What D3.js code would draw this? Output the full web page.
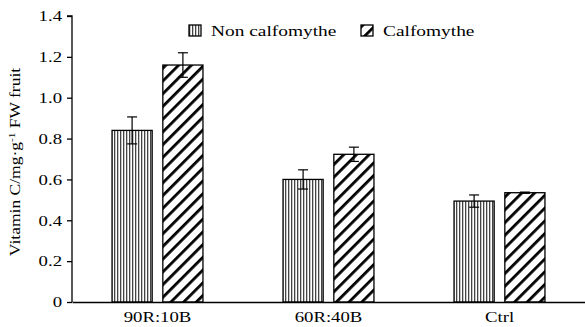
<!DOCTYPE html>
<html>
<head>
<meta charset="utf-8">
<script src="https://cdn.jsdelivr.net/npm/d3@7"></script>
<style>
  body { margin: 0; background: #fff; }
</style>
</head>
<body>
<div id="chart"></div>
<script>
// data
var categories = ["90R:10B", "60R:40B", "Ctrl"];
var seriesNames = ["Non calfomythe", "Calfomythe"];
var nonCalValues = [0.84, 0.60, 0.494];
var nonCalErrors = [0.066, 0.047, 0.030];
var calValues = [1.16, 0.723, 0.535];
var calErrors = [0.060, 0.035, 0.003];
var yTicks = [0, 0.2, 0.4, 0.6, 0.8, 1.0, 1.2, 1.4];

var width = 585, height = 327;
var plotLeft = 72, plotRight = 585, plotTop = 16, plotBottom = 302;
var serif = "'Liberation Serif', 'Times New Roman', 'DejaVu Serif', serif";
var stretch = 1.25; // reference font is quite wide

var svg = d3.select("#chart").append("svg")
  .attr("width", width)
  .attr("height", height);

// patterns
var defs = svg.append("defs");
var vert = defs.append("pattern")
  .attr("id", "vstripe")
  .attr("patternUnits", "userSpaceOnUse")
  .attr("width", 3)
  .attr("height", 3);
vert.append("rect").attr("width", 3).attr("height", 3).attr("fill", "#fff");
vert.append("rect").attr("x", 0).attr("width", 1.3).attr("height", 3).attr("fill", "#444");

var diag = defs.append("pattern")
  .attr("id", "diag")
  .attr("patternUnits", "userSpaceOnUse")
  .attr("width", 9)
  .attr("height", 9)
  .attr("patternTransform", "rotate(45)");
diag.append("rect").attr("width", 9).attr("height", 9).attr("fill", "#fff");
diag.append("rect").attr("x", 0).attr("width", 2.8).attr("height", 9).attr("fill", "#000");

var x = d3.scaleBand().domain(categories).range([plotLeft, plotRight]).paddingInner(0).paddingOuter(0);
var xSub = d3.scaleBand().domain(seriesNames).range([-48, 48]).paddingInner(0.21).paddingOuter(0.05);
var y = d3.scaleLinear().domain([0, 1.4]).range([plotBottom, plotTop]);

var series = [
  { name: seriesNames[0], values: nonCalValues, errors: nonCalErrors, fill: "url(#vstripe)" },
  { name: seriesNames[1], values: calValues, errors: calErrors, fill: "url(#diag)" }
];

// bars
series.forEach(function(s) {
  var g = svg.append("g");
  categories.forEach(function(c, i) {
    var cx = x(c) + x.bandwidth() / 2;
    var bx = cx + xSub(s.name);
    g.append("rect")
      .attr("x", bx)
      .attr("y", y(s.values[i]))
      .attr("width", xSub.bandwidth())
      .attr("height", y(0) - y(s.values[i]))
      .attr("fill", s.fill)
      .attr("stroke", "#000")
      .attr("stroke-width", 1.3);

    // error bar
    var mx = bx + xSub.bandwidth() / 2;
    var hi = y(s.values[i] + s.errors[i]);
    var lo = y(s.values[i] - s.errors[i]);
    g.append("line").attr("x1", mx).attr("x2", mx).attr("y1", hi).attr("y2", lo)
      .attr("stroke", "#000").attr("stroke-width", 1.2);
    g.append("line").attr("x1", mx - 5).attr("x2", mx + 5).attr("y1", hi).attr("y2", hi)
      .attr("stroke", "#000").attr("stroke-width", 1.2);
    g.append("line").attr("x1", mx - 5).attr("x2", mx + 5).attr("y1", lo).attr("y2", lo)
      .attr("stroke", "#000").attr("stroke-width", 1.2);
  });
});

// y axis
var yAxis = svg.append("g")
  .attr("transform", "translate(" + plotLeft + ",0)")
  .call(d3.axisLeft(y).tickValues(yTicks).tickSize(5).tickPadding(5)
    .tickFormat(function(d) { return d === 0 ? "0" : d3.format(".1f")(d); }));
yAxis.attr("font-family", serif);
yAxis.select(".domain").attr("stroke", "#000").attr("stroke-width", 1.3).attr("d", "M-5," + plotTop + "H0V" + plotBottom);
yAxis.selectAll(".tick line").attr("stroke", "#000").attr("stroke-width", 1.3);
yAxis.selectAll(".tick text").attr("font-size", "15px").attr("fill", "#000");

// x axis
var xAxis = svg.append("g")
  .attr("transform", "translate(0," + plotBottom + ")")
  .call(d3.axisBottom(x).tickSize(0).tickPadding(9));
xAxis.attr("font-family", serif);
xAxis.select(".domain").attr("stroke", "#000").attr("stroke-width", 1.3);
xAxis.selectAll(".tick text").attr("font-size", "15px").attr("fill", "#000");

// y title
var title = svg.append("text")
  .attr("transform", "translate(20,162) rotate(-90)")
  .attr("text-anchor", "middle")
  .attr("font-family", serif)
  .attr("font-size", "14px");
title.append("tspan").text("Vitamin C/mg\u00b7g");
title.append("tspan").attr("dy", -5).attr("font-size", "9px").text("-1");
title.append("tspan").attr("dy", 5).text(" FW fruit");

// legend
var legendX = [189, 361];
series.forEach(function(s, i) {
  var lg = svg.append("g").attr("transform", "translate(" + legendX[i] + ",25)");
  lg.append("rect").attr("width", 12).attr("height", 11)
    .attr("fill", s.fill).attr("stroke", "#000").attr("stroke-width", 1.3);
  lg.append("text").attr("x", 22).attr("y", 11)
    .attr("font-family", serif)
    .attr("font-size", "15.5px").text(s.name);
});

// widen glyphs to match the reference's wide serif face
svg.selectAll("text").each(function() {
  var len = this.getComputedTextLength();
  d3.select(this).attr("textLength", len * stretch).attr("lengthAdjust", "spacingAndGlyphs");
});
</script>
</body>
</html>
